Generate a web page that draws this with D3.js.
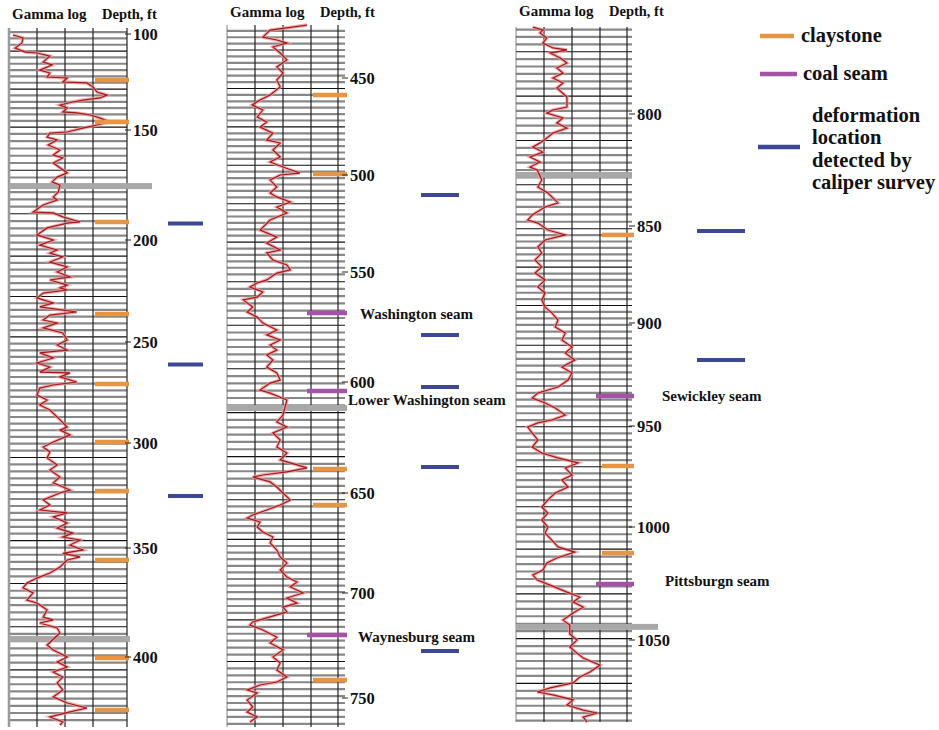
<!DOCTYPE html>
<html>
<head>
<meta charset="utf-8">
<script src="https://cdn.jsdelivr.net/npm/d3@7"></script>
<style>
  html, body { margin: 0; padding: 0; background: #fff; }
  svg { display: block; }
</style>
</head>
<body>
<svg id="chart" width="939" height="730"></svg>
<script>
// ---- Gamma-ray log readings: [depth ft, gamma API] ----
const gamma1 = [
  [100.5,7],[102.1,25],[104.7,23],[107.3,11],[109.4,29],[109.9,50],[111.5,73],[114.6,61],[116.1,77],[118.8,55],
  [120.3,73],[122.4,68],[122.9,104],[125,96],[125.5,139],[127.6,150],[130.2,157],[131.8,175],[133.3,163],[134.4,132],
  [135.4,114],[137,91],[138.5,104],[140.6,96],[141.1,121],[142.2,145],[143.8,163],[145.8,180],[147.4,157],[149,132],
  [150.9,104],[151.4,73],[153.2,68],[154.5,86],[156.8,70],[159.1,91],[161.4,79],[162.7,96],[165,79],[169.5,104],
  [171.4,86],[173.6,77],[175,91],[178.2,88],[180.5,79],[181.8,86],[184.1,61],[187.3,43],[187.7,79],[189.5,96],
  [191.8,127],[192.3,104],[194.5,68],[197.7,50],[200,79],[202.5,55],[204.9,86],[206.4,73],[208.3,96],[210.8,73],
  [213.2,104],[215.7,86],[218.1,109],[219.6,73],[222.1,104],[223.5,91],[224.5,104],[226,61],[228.4,50],[230.9,79],
  [232.8,55],[235.3,121],[236.8,73],[239.2,61],[240.7,86],[243.1,61],[245.6,96],[249,104],[251.5,86],[254,104],
  [255.4,55],[257.9,79],[260.4,50],[262.4,73],[264.9,55],[265.3,109],[267.3,91],[269.8,121],[271.3,79],[272.8,55],
  [276.2,50],[278.7,68],[281.2,55],[283.7,73],[287.1,86],[292.1,104],[293.6,91],[296,109],[299.5,79],[301.9,61],
  [304.3,73],[307.1,68],[310.5,86],[312.9,73],[316.2,91],[319,79],[322.4,109],[323.8,91],[327.1,61],[329.5,73],
  [331.9,55],[333.3,104],[335.2,79],[338.1,104],[340.5,86],[342.9,114],[344.8,96],[346.2,127],[348.6,109],[350.9,132],
  [352.5,96],[354.1,127],[355.5,104],[358.7,91],[361.5,73],[363.8,50],[366.1,32],[368.3,25],[370.6,43],[373.9,32],
  [375.2,50],[378.4,68],[381.7,61],[383,79],[384.4,55],[386.7,86],[389,91],[394.5,68],[396.8,79],[400,104],
  [402.3,86],[404.6,104],[406.9,79],[409.2,96],[411.9,86],[415.1,96],[418.3,79],[421.1,104],[423.4,139],[425.2,109],
  [427.5,73],[429.8,96],[431.2,91]
];
const gamma2 = [
  [422.7,143],[425.3,77],[428.9,64],[430.4,89],[432,107],[434,82],[437.1,95],[440.7,107],[444.3,89],[447.4,100],
  [451,89],[454.6,95],[458.8,77],[461.3,59],[463.9,45],[466.5,64],[470.1,54],[472.7,71],[475.3,59],[478.4,82],
  [482,71],[483.5,95],[487.1,82],[490.7,95],[493.3,77],[495.9,100],[499,130],[500,95],[502.6,77],[506.2,89],
  [509.3,77],[511.3,89],[513.9,113],[516.5,89],[519.6,107],[523.2,77],[528.4,59],[532,89],[535.1,71],[538.7,95],
  [540.2,71],[543.8,82],[546.4,107],[548.9,113],[550.5,89],[553.6,71],[555,54],[556.8,41],[559.1,64],[561.4,54],
  [562.7,29],[565.9,46],[568.2,36],[570.5,54],[573.2,64],[576.4,89],[578.6,71],[580.9,95],[583.2,77],[585.5,89],
  [587.7,71],[590,82],[593.2,71],[595.9,89],[599.1,95],[600.5,77],[603.6,59],[605,77],[608.1,107],[614.9,100],
  [618,89],[620.3,107],[623,82],[626.1,95],[629.3,89],[632,107],[635.1,95],[638.7,143],[640.5,107],[641.9,64],
  [642.8,46],[645,77],[647.3,89],[650,100],[653.5,113],[656,95],[658.5,71],[661,46],[662.5,36],[664.5,59],
  [667,54],[669.5,64],[672,82],[675,77],[678.5,89],[682,95],[685,107],[688.5,95],[692,107],[694.5,125],
  [697,113],[700,136],[702.4,107],[704.8,125],[706.7,100],[709,107],[711.4,77],[713.8,46],[715.2,41],[717.6,64],
  [721,89],[723.8,77],[727.1,100],[730.5,82],[733.3,95],[736.7,89],[740,107],[742.4,89],[743.8,59],[746.2,36],
  [747.6,54],[751,36],[754.3,46],[756.7,36],[759,54],[761.4,41]
];
const gamma3 = [
  [761.2,30],[762.5,48],[763.8,43],[766.1,55],[768.3,48],[770.5,66],[771.4,91],[772.8,61],[775,79],[777.2,91],
  [779.5,73],[781.7,84],[783.9,66],[786.2,84],[788.4,73],[792.4,91],[796.9,91],[798.2,66],[799.6,55],[801.8,84],
  [804,73],[806.3,91],[808.5,66],[810.7,55],[812.9,43],[814.7,30],[817,48],[819.2,25],[821.4,43],[823.7,25],
  [825,38],[829.5,46],[832.6,39],[835.3,57],[839.7,75],[841.5,52],[845.1,29],[847.3,21],[848.7,39],[852.1,57],
  [854.6,88],[857.2,52],[860.8,39],[863.9,46],[867.5,34],[871.1,46],[874.2,34],[877.8,52],[881.4,39],[884.5,52],
  [888.1,46],[891.8,52],[894.8,64],[898.5,75],[901.9,70],[904.9,88],[908.3,82],[911.7,100],[914.6,88],[918,105],
  [921.4,82],[924.3,100],[927.7,93],[931.1,75],[934,39],[936.4,29],[938.8,52],[941.3,70],[944.7,88],[947.1,64],
  [948.5,39],[950.5,21],[953.5,29],[956.9,39],[960.4,29],[963.4,46],[965.8,75],[968.3,111],[970.8,88],[974.3,100],
  [976.7,82],[980.2,93],[983.2,70],[986.6,57],[990.1,46],[993.1,57],[996.5,46],[1000,57],[1002.7,52],[1005.8,64],
  [1008.8,75],[1011.1,105],[1013.7,73],[1015.9,55],[1019,48],[1021.2,30],[1023.5,38],[1025.7,61],[1028.8,91],[1031,114],
  [1033.2,102],[1035.4,120],[1038.1,102],[1041.2,84],[1043.4,96],[1047.3,96],[1050,109],[1053.1,96],[1055.8,109],[1058,120],
  [1061.1,150],[1064.2,132],[1066.4,114],[1069,102],[1071.2,61],[1073,38],[1074.3,66],[1076.5,102],[1078.8,91],[1081,120],
  [1082.3,145],[1084.1,120],[1086.3,127]
];

// ---- Lithology picks and caliper deformation depths (ft) ----
const claystone1 = [124, 145.8, 191.8, 236.3, 270.8, 299.5, 322.9, 355.5, 400.5, 424.3];
const coal1 = [];
const caliper1 = [192.5, 261.2, 325.2];

const claystone2 = [458.8, 499.5, 639.2, 656, 741.4];
const coal2 = [568.6, 604, 720];
const caliper2 = [510.3, 578.6, 602.3, 638.3, 727.6];

const claystone3 = [854.6, 969.8, 1011.5];
const coal3 = [935.4, 1025.2];
const caliper3 = [852.6, 918];

// Splices between log sections (ft)
const splice1 = [175.5, 391.7];
const splice2 = [611.7];
const splice3 = [827.2, 1044.2];

// Depth tick labels per section
const depthTicks1 = [100, 150, 200, 250, 300, 350, 400];
const depthTicks2 = [450, 500, 550, 600, 650, 700, 750];
const depthTicks3 = [800, 850, 900, 950, 1000, 1050];

// Named coal seams
const seamNames = ["Washington seam", "Lower Washington seam", "Waynesburg seam", "Sewickley seam", "Pittsburgn seam"];

// Legend entries
const legendNames = ["claystone", "coal seam", "deformation", "location", "detected by", "caliper survey"];

// ---- Layout ----
const FONT = "Liberation Serif";
const COLORS = { clay: "#e59544", coal: "#a452a6", cal: "#3c4796", trace: "#a3171c", halo: "#ec9a9a" };

const svg = d3.select("#chart");

const label = (sel, size) => sel.attr("font-family", FONT).attr("font-weight", "bold")
  .attr("font-size", size).attr("fill", "#111");

// Each section: left edge, grid right edge, depth-tick pixel rows, top/bottom
const panels = [
  { x0: 9,   colW: 28, right: 127, ext: 127, top: 28, bottom: 727, ticks: depthTicks1, rows: [34, 130, 240, 342, 443, 548, 657],
    gamma: gamma1, clay: claystone1, coal: coal1, cal: caliper1, splice: splice1, spliceExt: [152, 130],
    calX: [168, 203], labelX: 133, headY: 19, leftGray: true },
  { x0: 227, colW: 28, right: 338, ext: 345, top: 25, bottom: 727, ticks: depthTicks2, rows: [78, 175, 272, 382, 493, 593, 698],
    gamma: gamma2, clay: claystone2, coal: coal2, cal: caliper2, splice: splice2, spliceExt: [347],
    calX: [421, 459], labelX: 350, headY: 17, leftGray: false },
  { x0: 516, colW: 28, right: 627, ext: 632, top: 27, bottom: 722, ticks: depthTicks3, rows: [114, 226, 323, 426, 527, 640],
    gamma: gamma3, clay: claystone3, coal: coal3, cal: caliper3, splice: splice3, spliceExt: [632, 658],
    calX: [697, 745], labelX: 637, headY: 16, leftGray: false }
];

const seamLabelPos = [[360, 319], [348, 405], [358, 642], [662, 401], [665, 586]];

panels.forEach(p => {
  const g = svg.append("g");
  const y = d3.scaleLinear().domain(p.ticks).range(p.rows);
  const x = d3.scaleLinear().domain([0, 50]).range([p.x0, p.x0 + p.colW]);
  const d0 = y.invert(p.top), d1 = y.invert(p.bottom);

  // horizontal chart-paper rules
  const rules = d3.range(Math.ceil(d0 / 3.3) * 3.3, d1, 3.3);
  g.selectAll("line.rule").data(rules).join("line")
    .attr("x1", p.x0).attr("x2", p.ext)
    .attr("y1", d => y(d)).attr("y2", d => y(d))
    .attr("stroke", (d, k) => (k % 6 === 3 ? "#111" : "#888"))
    .attr("stroke-width", (d, k) => (k % 6 === 3 ? 1.1 : 2.2));

  // vertical grid lines
  const vlines = [1, 2, 3].map(k => x(k * 50)).concat([p.right]);
  g.selectAll("line.v").data(vlines).join("line")
    .attr("x1", d => d).attr("x2", d => d)
    .attr("y1", p.top).attr("y2", p.bottom)
    .attr("stroke", "#222").attr("stroke-width", 1.2);
  g.append("line").attr("x1", p.x0).attr("x2", p.x0).attr("y1", p.top).attr("y2", p.bottom)
    .attr("stroke", p.leftGray ? "#9a9a9a" : "#666").attr("stroke-width", p.leftGray ? 2.5 : 0.8);

  // splice bands
  g.selectAll("rect.splice").data(p.splice).join("rect")
    .attr("x", p.x0).attr("y", d => y(d) - 3)
    .attr("width", (d, k) => p.spliceExt[k] - p.x0).attr("height", 6)
    .attr("fill", "#a8a8a8");

  // gamma trace: soft halo plus core
  const line = d3.line().x(d => x(d[1])).y(d => y(d[0])).curve(d3.curveLinear);
  g.append("path").datum(p.gamma).attr("d", line)
    .attr("fill", "none").attr("stroke", COLORS.halo).attr("stroke-width", 3.4).attr("opacity", 0.75);
  g.append("path").datum(p.gamma).attr("d", line)
    .attr("fill", "none").attr("stroke", COLORS.trace).attr("stroke-width", 1.2);

  // lithology picks in the depth track
  const barX1 = x(150), barX2 = p.ext + 2;
  g.selectAll("line.clay").data(p.clay).join("line")
    .attr("x1", barX1 + 2).attr("x2", barX2)
    .attr("y1", d => y(d)).attr("y2", d => y(d))
    .attr("stroke", COLORS.clay).attr("stroke-width", 4.5);
  g.selectAll("line.coal").data(p.coal).join("line")
    .attr("x1", barX1 - 4).attr("x2", barX2)
    .attr("y1", d => y(d)).attr("y2", d => y(d))
    .attr("stroke", COLORS.coal).attr("stroke-width", 4.5);

  // caliper deformation marks
  g.selectAll("line.cal").data(p.cal).join("line")
    .attr("x1", p.calX[0]).attr("x2", p.calX[1])
    .attr("y1", d => y(d)).attr("y2", d => y(d))
    .attr("stroke", COLORS.cal).attr("stroke-width", 4);

  // depth ticks and labels
  g.selectAll("line.tick").data(p.ticks).join("line")
    .attr("x1", p.labelX - 8).attr("x2", p.labelX - 2)
    .attr("y1", d => y(d)).attr("y2", d => y(d))
    .attr("stroke", "#222").attr("stroke-width", 1);
  g.selectAll("text.depth").data(p.ticks).join("text")
    .call(label, 16.5)
    .attr("x", p.labelX).attr("y", d => y(d) + 5.5).text(d => d);

  // header
  g.append("text").call(label, 15).attr("x", p.x0 + 3).attr("y", p.headY).text("Gamma log");
  g.append("text").call(label, 14.5).attr("x", p.x0 + 93).attr("y", p.headY).text("Depth, ft");
});

// seam names
svg.selectAll("text.seam").data(seamNames).join("text")
  .call(label, 15)
  .attr("x", (d, i) => seamLabelPos[i][0]).attr("y", (d, i) => seamLabelPos[i][1])
  .text(d => d);

// legend
const legend = svg.append("g");
const legendMarks = [
  { c: COLORS.clay, y: 36, x1: 760, x2: 794 },
  { c: COLORS.coal, y: 74, x1: 760, x2: 797 },
  { c: COLORS.cal,  y: 147, x1: 758, x2: 800 }
];
legend.selectAll("line").data(legendMarks).join("line")
  .attr("x1", d => d.x1).attr("x2", d => d.x2).attr("y1", d => d.y).attr("y2", d => d.y)
  .attr("stroke", d => d.c).attr("stroke-width", 4.5);
legend.append("text").call(label, 20.5).attr("x", 801).attr("y", 42).text(legendNames[0]);
legend.append("text").call(label, 20.5).attr("x", 803).attr("y", 80).text(legendNames[1]);
legend.append("text").call(label, 20.5)
  .selectAll("tspan").data(legendNames.slice(2)).join("tspan")
  .attr("x", 812).attr("y", (d, k) => 122 + k * 22.3).text(d => d);
</script>
</body>
</html>
